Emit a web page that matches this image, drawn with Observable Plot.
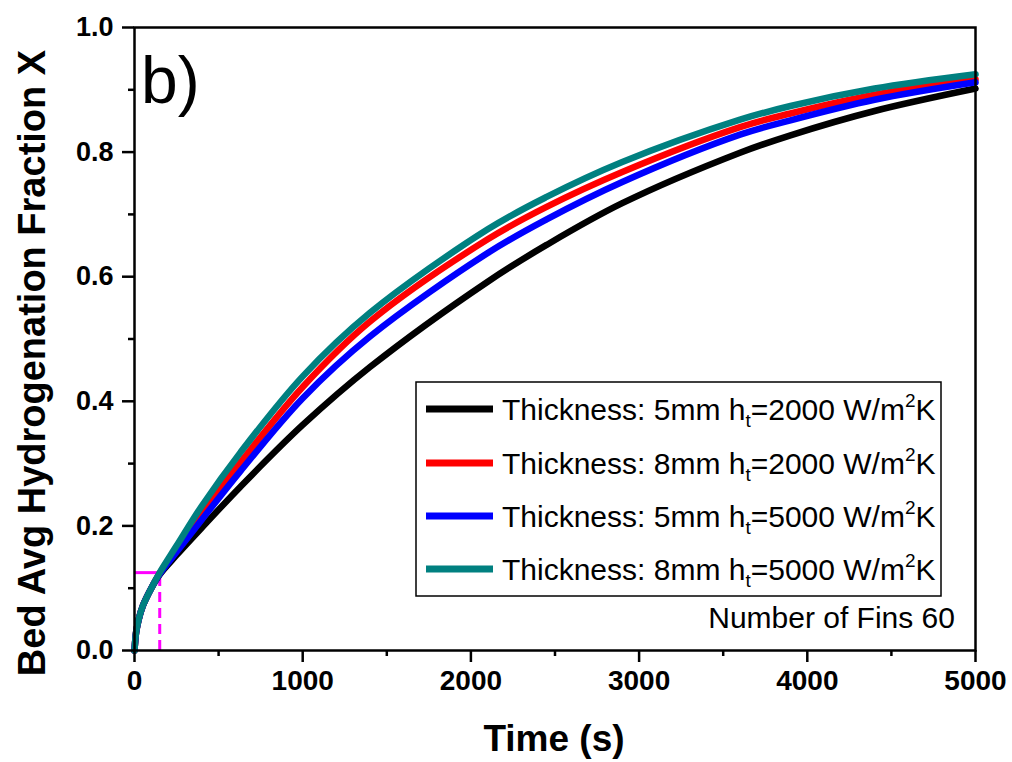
<!DOCTYPE html>
<html>
<head>
<meta charset="utf-8">
<script src="https://cdn.jsdelivr.net/npm/d3@7"></script>
<script src="https://cdn.jsdelivr.net/npm/@observablehq/plot@0.6"></script>
<style>
  html, body { margin: 0; padding: 0; background: #fff; }
  #chart svg { font-family: "Liberation Sans", Arial, sans-serif; }
</style>
</head>
<body>
<div id="chart"></div>
<script>
// ---- data ----
const times = [0, 10, 25, 50, 100, 150, 250, 400, 630, 1000, 1400, 2100, 2450, 2900, 3600, 3900, 4400, 5000];
const black5mm2000 = [0, 0.03, 0.05, 0.072, 0.1, 0.122, 0.153, 0.197, 0.263, 0.362, 0.455, 0.592, 0.651, 0.718, 0.799, 0.827, 0.866, 0.902];
const red8mm2000   = [0, 0.03, 0.05, 0.072, 0.1, 0.124, 0.164, 0.222, 0.302, 0.423, 0.528, 0.660, 0.712, 0.768, 0.840, 0.862, 0.892, 0.917];
const blue5mm5000  = [0, 0.03, 0.05, 0.072, 0.1, 0.123, 0.158, 0.210, 0.288, 0.405, 0.504, 0.638, 0.692, 0.752, 0.828, 0.851, 0.884, 0.912];
const teal8mm5000  = [0, 0.03, 0.05, 0.072, 0.1, 0.125, 0.168, 0.232, 0.318, 0.440, 0.542, 0.676, 0.728, 0.784, 0.852, 0.874, 0.902, 0.925];

const seriesNames = ["Thickness: 5mm", "Thickness: 8mm", "Thickness: 5mm", "Thickness: 8mm"];
const seriesH = ["2000", "2000", "5000", "5000"];
const seriesColors = ["#000000", "#ff0000", "#0000ff", "#008080"];
const seriesValues = [black5mm2000, red8mm2000, blue5mm5000, teal8mm5000];

const xMajor = [0, 1000, 2000, 3000, 4000, 5000];
const xMinor = [500, 1500, 2500, 3500, 4500];
const yMajor = [0, 0.2, 0.4, 0.6, 0.8, 1.0];
const yMinor = [0.1, 0.3, 0.5, 0.7, 0.9];

const markerT = 150, markerX = 0.125;

const panelLabel = "b)";
const noteText = "Number of Fins 60";
const xTitle = "Time (s)";
const yTitle = "Bed Avg Hydrogenation Fraction X";

// ---- build ----
const lineMarks = seriesValues.map((vals, i) =>
  Plot.line(times.map((t, j) => ({t, v: vals[j]})), {
    x: "t", y: "v", stroke: seriesColors[i], strokeWidth: 6.5, curve: "catmull-rom"
  })
);

const chart = Plot.plot({
  width: 1012,
  height: 762,
  marginLeft: 134,
  marginRight: 37,
  marginTop: 27,
  marginBottom: 112,
  x: {domain: [0, 5000]},
  y: {domain: [0, 1]},
  marks: [
    Plot.ruleX([markerT], {x: d => d, y1: 0, y2: markerX, stroke: "#ff00ff", strokeWidth: 3, strokeDasharray: "10,6"}),
    Plot.ruleY([markerX], {y: d => d, x1: 0, x2: markerT, stroke: "#ff00ff", strokeWidth: 3}),
    ...lineMarks,
    Plot.frame({stroke: "#000", strokeWidth: 2.5}),
    Plot.axisX({ticks: xMajor, tickSize: 12, tickPadding: 8, strokeWidth: 2.5, tickFormat: d => String(d), label: null, fontSize: 28, fontWeight: "bold"}),
    Plot.axisX({ticks: xMinor, tickSize: 6, strokeWidth: 2.5, tickFormat: () => "", label: null}),
    Plot.axisY({ticks: yMajor, tickSize: 12, tickPadding: 9, strokeWidth: 2.5, tickFormat: d3.format(".1f"), label: null, fontSize: 27, fontWeight: "bold"}),
    Plot.axisY({ticks: yMinor, tickSize: 6, strokeWidth: 2.5, tickFormat: () => "", label: null})
  ]
});

document.getElementById("chart").appendChild(chart);

// ---- annotations, titles and legend ----
const svg = d3.select(chart);
const ff = '"Liberation Sans", Arial, sans-serif';

svg.append("text").attr("x", 554).attr("y", 751).attr("text-anchor", "middle")
  .attr("font-family", ff).attr("font-size", 37).attr("font-weight", "bold").attr("fill", "#000").text(xTitle);

svg.append("text").attr("transform", "translate(45,363) rotate(-90)").attr("text-anchor", "middle")
  .attr("font-family", ff).attr("font-size", 38).attr("font-weight", "bold").attr("fill", "#000").text(yTitle);

svg.append("text").attr("x", 141).attr("y", 103).attr("text-anchor", "start")
  .attr("font-family", ff).attr("font-size", 66).attr("fill", "#000").text(panelLabel);

svg.append("text").attr("x", 955).attr("y", 628).attr("text-anchor", "end")
  .attr("font-family", ff).attr("font-size", 30).attr("fill", "#000").text(noteText);

const lg = svg.append("g");
lg.append("rect").attr("x", 416).attr("y", 382).attr("width", 525).attr("height", 214)
  .attr("fill", "#fff").attr("stroke", "#000").attr("stroke-width", 1.5);
const rowY = [409, 463, 516, 569];
seriesNames.forEach((name, i) => {
  const y = rowY[i];
  lg.append("line").attr("x1", 426).attr("x2", 493).attr("y1", y).attr("y2", y)
    .attr("stroke", seriesColors[i]).attr("stroke-width", 7);
  const t = lg.append("text").attr("x", 502).attr("y", y + 11).attr("text-anchor", "start")
    .attr("font-family", ff).attr("font-size", 30).attr("fill", "#000");
  t.append("tspan").text(name + " h");
  t.append("tspan").attr("font-size", 19).attr("dy", 7).text("t");
  t.append("tspan").attr("dy", -7).text("=" + seriesH[i] + " W/m");
  t.append("tspan").attr("font-size", 19).attr("dy", -13).text("2");
  t.append("tspan").attr("dy", 13).text("K");
});
</script>
</body>
</html>
